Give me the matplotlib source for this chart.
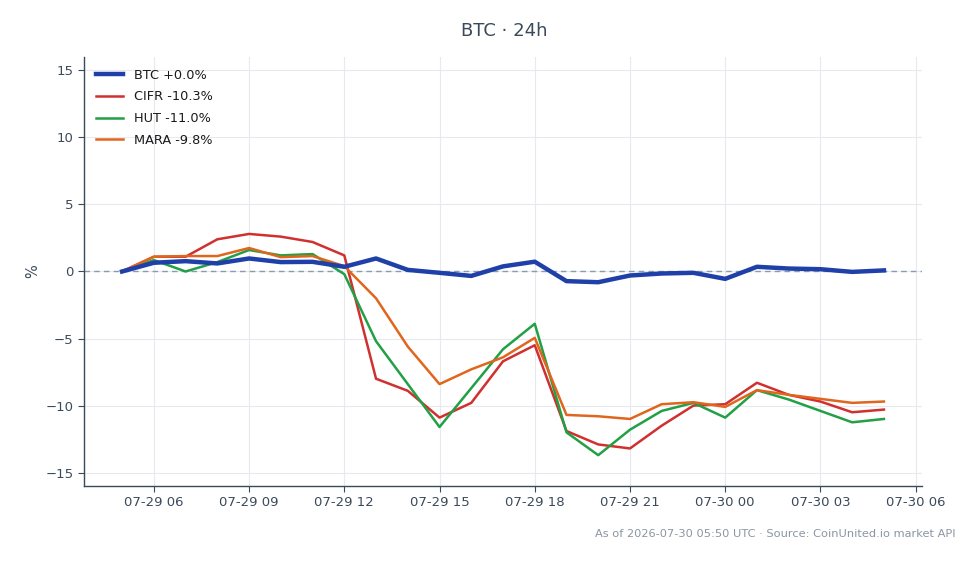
import matplotlib
matplotlib.use("Agg")
import matplotlib.pyplot as plt
import matplotlib.dates as mdates
import pandas as pd

times = pd.date_range("2026-07-29 05:00", "2026-07-30 05:00", freq="h")

btc = [0.0, 0.65, 0.77, 0.6, 0.97, 0.7, 0.72, 0.35, 0.97, 0.12, -0.1, -0.33, 0.38,
       0.73, -0.72, -0.8, -0.3, -0.15, -0.1, -0.55, 0.35, 0.22, 0.17, -0.03, 0.08]
cifr = [0.0, 1.1, 1.1, 2.4, 2.8, 2.6, 2.2, 1.2, -8.0, -8.9, -10.9, -9.8, -6.7,
        -5.5, -11.9, -12.9, -13.2, -11.5, -10.0, -9.9, -8.3, -9.2, -9.7, -10.5, -10.3]
hut = [0.0, 0.85, 0.0, 0.7, 1.6, 1.2, 1.3, -0.2, -5.2, -8.4, -11.6, -8.7, -5.8,
       -3.9, -12.0, -13.7, -11.8, -10.4, -9.8, -10.9, -8.85, -9.55, -10.4, -11.25, -11.0]
mara = [0.0, 1.1, 1.15, 1.15, 1.75, 1.07, 1.15, 0.4, -2.0, -5.6, -8.4, -7.3, -6.4,
        -4.95, -10.7, -10.8, -11.0, -9.9, -9.75, -10.1, -8.85, -9.2, -9.5, -9.8, -9.7]

labels = ["BTC +0.0%", "CIFR -10.3%", "HUT -11.0%", "MARA -9.8%"]
colors = ["#1e40a8", "#d03030", "#22a045", "#e0661e"]
widths = [3.2, 1.8, 1.8, 1.8]
series = [btc, cifr, hut, mara]

text_color = "#3b4a5a"

fig = plt.figure(figsize=(9.79, 5.64), dpi=100)
ax = fig.add_axes([0.0858, 0.1383, 0.856, 0.7607])

for vals, lab, c, w in zip(series, labels, colors, widths):
    ax.plot(times, vals, color=c, lw=w, label=lab, zorder=3 if lab.startswith("BTC") else 2)

ax.axhline(0, color="#8a9bb0", lw=1, ls=(0, (4, 3)), zorder=1)
ax.set_ylim(-16, 16)
ax.set_yticks([-15, -10, -5, 0, 5, 10, 15])
ax.xaxis.set_major_locator(mdates.HourLocator(byhour=[0, 3, 6, 9, 12, 15, 18, 21]))
ax.xaxis.set_major_formatter(mdates.DateFormatter("%m-%d %H"))

ax.grid(True, color="#e6e9ee", lw=0.8)
ax.set_axisbelow(True)
for s in ["top", "right"]:
    ax.spines[s].set_visible(False)
for s in ["left", "bottom"]:
    ax.spines[s].set_color("#3b4a5a")
    ax.spines[s].set_linewidth(1.0)
ax.tick_params(colors=text_color, labelsize=9.5, length=4)
ax.set_ylabel("%", color=text_color, fontsize=10.5, labelpad=4)

leg = ax.legend(loc="upper left", frameon=False, fontsize=9.3, handlelength=2.1,
                handletextpad=0.85, borderaxespad=0.5, labelspacing=0.68)
for t in leg.get_texts():
    t.set_color("#1a1a1a")

fig.text(0.5146, 0.945, "BTC · 24h", ha="center", va="center", fontsize=13, color=text_color)
fig.text(0.976, 0.054, "As of 2026-07-30 05:50 UTC · Source: CoinUnited.io market API",
         ha="right", va="center", fontsize=8.2, color="#8a96a3")

fig.savefig("out.png", dpi=100)
